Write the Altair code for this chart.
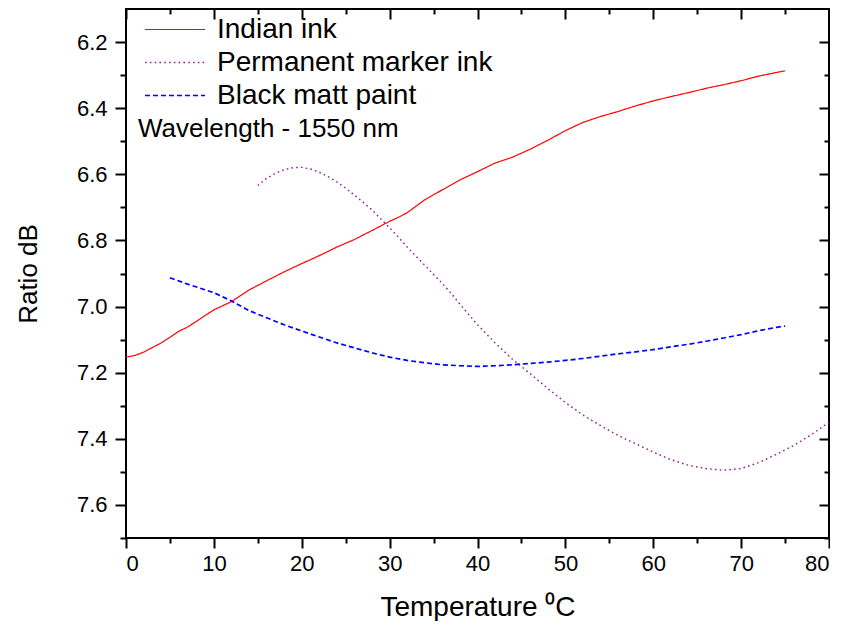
import altair as alt
import pandas as pd

# ---------------- data ----------------
series_names = ["Indian ink", "Permanent marker ink", "Black matt paint"]

indian_T = [0, 1, 2, 3, 4, 5, 6, 7, 8, 9, 10, 12, 14, 16, 18, 20, 22, 24, 26, 28,
            30, 31, 32, 34, 36, 38, 40, 42, 44, 46, 48, 50, 52, 54, 56, 58, 60,
            62, 64, 66, 68, 70, 72, 74, 75]
indian_R = [7.153, 7.148, 7.138, 7.124, 7.110, 7.093, 7.075, 7.062, 7.045, 7.027,
            7.010, 6.985, 6.950, 6.922, 6.895, 6.870, 6.846, 6.820, 6.797, 6.770,
            6.742, 6.730, 6.716, 6.677, 6.647, 6.617, 6.592, 6.566, 6.548, 6.524,
            6.497, 6.468, 6.443, 6.425, 6.410, 6.393, 6.378, 6.365, 6.353, 6.340,
            6.329, 6.317, 6.303, 6.292, 6.287]

marker_T = [15, 16, 17, 18, 19, 20, 21, 22, 23, 24, 25, 26, 27, 28, 29, 30, 31, 32,
            33, 34, 35, 36, 37, 38, 39, 40, 42, 44, 46, 48, 50, 52, 54, 56, 58, 60,
            62, 64, 66, 68, 70, 72, 74, 76, 78, 80]
marker_R = [6.634, 6.612, 6.597, 6.586, 6.580, 6.579, 6.584, 6.594, 6.607, 6.623,
            6.642, 6.663, 6.685, 6.708, 6.735, 6.762, 6.790, 6.820, 6.848, 6.875,
            6.903, 6.930, 6.960, 6.993, 7.024, 7.055, 7.110, 7.160, 7.203, 7.248,
            7.290, 7.328, 7.360, 7.390, 7.415, 7.440, 7.463, 7.480, 7.490, 7.495,
            7.490, 7.472, 7.447, 7.420, 7.387, 7.350]

paint_T = [5, 7, 10, 12, 14, 16, 18, 20, 22, 24, 26, 28, 30, 32, 34, 36, 38, 40,
           42, 44, 46, 48, 50, 52, 54, 56, 58, 60, 62, 64, 66, 68, 70, 72, 74, 75]
paint_R = [6.913, 6.932, 6.958, 6.983, 7.012, 7.034, 7.055, 7.074, 7.092, 7.110,
           7.125, 7.140, 7.153, 7.163, 7.170, 7.176, 7.179, 7.181, 7.179, 7.176,
           7.172, 7.168, 7.163, 7.157, 7.150, 7.143, 7.137, 7.130, 7.122, 7.114,
           7.105, 7.095, 7.085, 7.073, 7.063, 7.059]

x_major = [0, 10, 20, 30, 40, 50, 60, 70, 80]
x_minor = [5, 15, 25, 35, 45, 55, 65, 75]
y_major = [6.2, 6.4, 6.6, 6.8, 7.0, 7.2, 7.4, 7.6]
y_minor = [6.3, 6.5, 6.7, 6.9, 7.1, 7.3, 7.5, 7.7]

# ---------------- styling ----------------
colors = ["#ff0000", "#951f95", "#0000ff"]
dashes = [[1, 0], [1.6, 3.2], [5, 3]]
widths = [1.2, 1.7, 1.3]
FONT = "Liberation Sans"
W, H = 703, 529

rows = []
for name, T, R in [(series_names[0], indian_T, indian_R),
                   (series_names[1], marker_T, marker_R),
                   (series_names[2], paint_T, paint_R)]:
    for t, r in zip(T, R):
        rows.append({"T": t, "R": r, "series": name})
df = pd.DataFrame(rows)

xscale = alt.Scale(domain=[0, 80], nice=False, zero=False)
yscale = alt.Scale(domain=[6.1, 7.7], reverse=True, nice=False, zero=False)

legend = alt.Legend(
    title="Wavelength - 1550 nm",
    titleOrient="bottom",
    titleAnchor="start",
    titleFontSize=26,
    titleFontWeight="normal",
    titleFont=FONT,
    titleColor="black",
    titlePadding=5,
    titleLimit=500,
    orient="none",
    legendX=12,
    legendY=5,
    padding=0,
    symbolType="stroke",
    symbolSize=3600,
    symbolStrokeWidth=1.3,
    symbolOffset=6,
    clipHeight=31,
    rowPadding=2,
    labelFontSize=28,
    labelFont=FONT,
    labelColor="black",
    labelOffset=11,
    labelLimit=500,
)

base = alt.Chart(df)

lines = base.mark_line(clip=True).encode(
    x=alt.X("T:Q", scale=xscale,
            axis=alt.Axis(orient="bottom", values=x_major, tickSize=10,
                          labelPadding=5, labelFontSize=22,
                          title="Temperature \u2070C", titleFontSize=28,
                          titleFontWeight="normal", titlePadding=19)),
    y=alt.Y("R:Q", scale=yscale,
            axis=alt.Axis(orient="left", values=y_major, format=".1f",
                          tickSize=11, labelPadding=8, labelFontSize=22,
                          title="Ratio dB", titleFontSize=26,
                          titleFontWeight="normal", titlePadding=35)),
    color=alt.Color("series:N", sort=series_names,
                    scale=alt.Scale(domain=series_names, range=colors),
                    legend=legend),
    strokeDash=alt.StrokeDash("series:N", sort=series_names,
                              scale=alt.Scale(domain=series_names, range=dashes),
                              legend=legend),
    strokeWidth=alt.StrokeWidth("series:N", sort=series_names,
                                scale=alt.Scale(domain=series_names, range=widths),
                                legend=legend),
)

def ghost(xaxis, yaxis):
    return base.mark_point(opacity=0, size=1).encode(
        x=alt.X("T:Q", scale=xscale, axis=xaxis),
        y=alt.Y("R:Q", scale=yscale, axis=yaxis),
    )

common = dict(labels=False, domain=False, grid=False, title=None)

minor_out = ghost(
    alt.Axis(orient="bottom", values=x_minor, tickSize=5, **common),
    alt.Axis(orient="left", values=y_minor, tickSize=6, **common),
)
major_in = ghost(
    alt.Axis(orient="bottom", offset=-H, values=x_major, tickSize=10, **common),
    alt.Axis(orient="left", offset=-W, values=y_major, tickSize=10, **common),
)
minor_in = ghost(
    alt.Axis(orient="bottom", offset=-H, values=x_minor, tickSize=5, **common),
    alt.Axis(orient="left", offset=-W, values=y_minor, tickSize=5, **common),
)

chart = alt.layer(lines, minor_out, major_in, minor_in).resolve_axis(
    x="independent", y="independent"
).properties(
    width=W, height=H,
    padding={"left": 7, "top": 0, "right": 0, "bottom": 0},
    background="white",
).configure_view(
    stroke="black", strokeWidth=2
).configure_axis(
    grid=False, domain=False,
    tickColor="black", tickWidth=2,
    labelColor="black", titleColor="black",
    labelFont=FONT, titleFont=FONT,
)

chart.save("out.html", embed_options={"renderer": "svg", "actions": False})
